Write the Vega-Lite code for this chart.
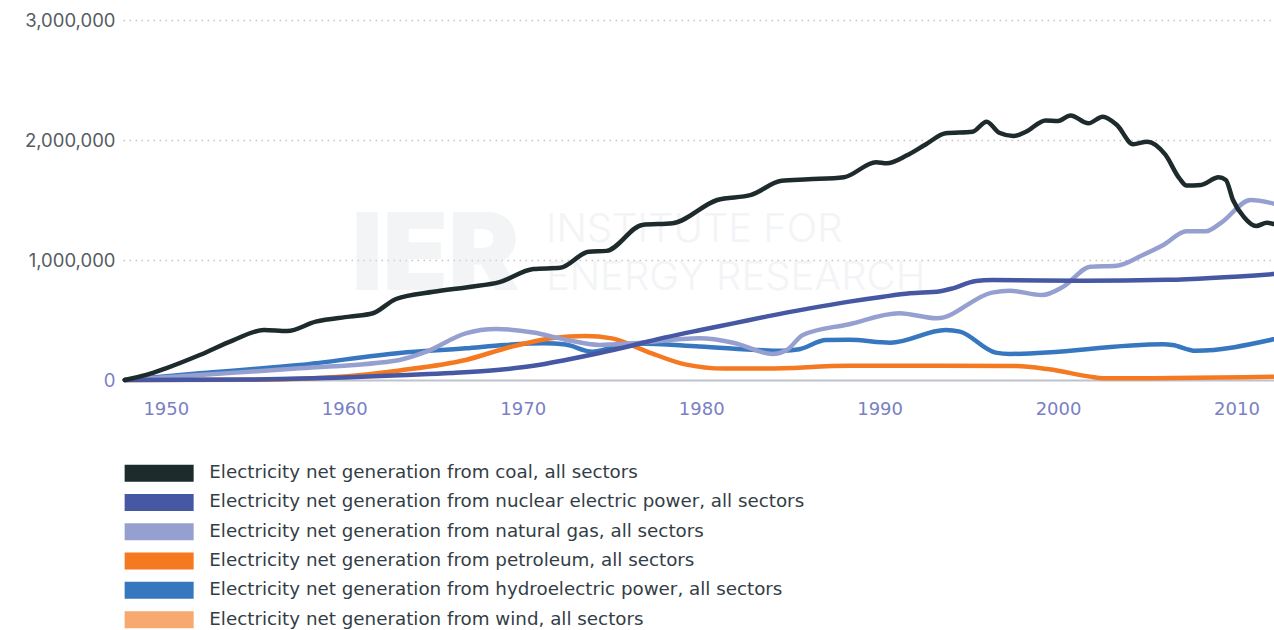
{
  "$schema": "https://vega.github.io/schema/vega-lite/v6.json",
  "autosize": {"type": "none"},
  "padding": {"left": 123, "top": 20, "right": 0, "bottom": 250},
  "width": 1151,
  "height": 360,
  "background": "white",
  "config": {
    "view": {"stroke": null},
    "font": "Inter"
  },
  "layer": [
    {
      "data": {"values": [{}]},
      "mark": {"type": "text", "text": "IER", "font": "Inter", "fontWeight": 900, "fontSize": 107, "align": "left", "baseline": "alphabetic", "fill": "#e2e5ea", "opacity": 0.42},
      "encoding": {"x": {"datum": 1960.4, "type": "quantitative"}, "y": {"datum": 750000, "type": "quantitative"}}
    },
    {
      "data": {"values": [{}]},
      "mark": {"type": "text", "text": "INSTITUTE FOR", "font": "Inter", "fontWeight": 300, "fontSize": 40, "align": "left", "baseline": "alphabetic", "fill": "#e2e5ea", "opacity": 0.42},
      "encoding": {"x": {"datum": 1971.3, "type": "quantitative"}, "y": {"datum": 1150000, "type": "quantitative"}}
    },
    {
      "data": {"values": [{}]},
      "mark": {"type": "text", "text": "ENERGY RESEARCH", "font": "Inter", "fontWeight": 300, "fontSize": 40, "align": "left", "baseline": "alphabetic", "fill": "#e2e5ea", "opacity": 0.42},
      "encoding": {"x": {"datum": 1971.3, "type": "quantitative"}, "y": {"datum": 750000, "type": "quantitative"}}
    },
    {
      "data": {"values": [
        {"s": "hydroelectric power", "year": 1947.7, "v": 0},
        {"s": "hydroelectric power", "year": 1951.9, "v": 56000},
        {"s": "hydroelectric power", "year": 1957.5, "v": 125000},
        {"s": "hydroelectric power", "year": 1963.1, "v": 225000},
        {"s": "hydroelectric power", "year": 1966.8, "v": 264000},
        {"s": "hydroelectric power", "year": 1969.0, "v": 292000},
        {"s": "hydroelectric power", "year": 1971.2, "v": 306000},
        {"s": "hydroelectric power", "year": 1972.4, "v": 295000},
        {"s": "hydroelectric power", "year": 1973.9, "v": 235000},
        {"s": "hydroelectric power", "year": 1975.2, "v": 278000},
        {"s": "hydroelectric power", "year": 1976.5, "v": 305000},
        {"s": "hydroelectric power", "year": 1979.9, "v": 280000},
        {"s": "hydroelectric power", "year": 1984.6, "v": 244000},
        {"s": "hydroelectric power", "year": 1985.5, "v": 256000},
        {"s": "hydroelectric power", "year": 1987.0, "v": 333000},
        {"s": "hydroelectric power", "year": 1988.3, "v": 335000},
        {"s": "hydroelectric power", "year": 1990.6, "v": 311000},
        {"s": "hydroelectric power", "year": 1993.7, "v": 417000},
        {"s": "hydroelectric power", "year": 1994.5, "v": 403000},
        {"s": "hydroelectric power", "year": 1996.5, "v": 228000},
        {"s": "hydroelectric power", "year": 1997.3, "v": 217000},
        {"s": "hydroelectric power", "year": 2005.9, "v": 297000},
        {"s": "hydroelectric power", "year": 2006.4, "v": 292000},
        {"s": "hydroelectric power", "year": 2007.7, "v": 244000},
        {"s": "hydroelectric power", "year": 2012.07, "v": 339000},

        {"s": "petroleum", "year": 1947.7, "v": 0},
        {"s": "petroleum", "year": 1955.0, "v": 3000},
        {"s": "petroleum", "year": 1960.0, "v": 30000},
        {"s": "petroleum", "year": 1963.1, "v": 80000},
        {"s": "petroleum", "year": 1966.8, "v": 167000},
        {"s": "petroleum", "year": 1969.3, "v": 275000},
        {"s": "petroleum", "year": 1971.7, "v": 350000},
        {"s": "petroleum", "year": 1973.5, "v": 367000},
        {"s": "petroleum", "year": 1975.0, "v": 347000},
        {"s": "petroleum", "year": 1977.0, "v": 235000},
        {"s": "petroleum", "year": 1979.1, "v": 130000},
        {"s": "petroleum", "year": 1981.3, "v": 95000},
        {"s": "petroleum", "year": 1983.6, "v": 95000},
        {"s": "petroleum", "year": 1988.3, "v": 119000},
        {"s": "petroleum", "year": 1997.6, "v": 117000},
        {"s": "petroleum", "year": 1999.5, "v": 89000},
        {"s": "petroleum", "year": 2001.8, "v": 28000},
        {"s": "petroleum", "year": 2002.5, "v": 14000},
        {"s": "petroleum", "year": 2012.07, "v": 28000},

        {"s": "natural gas", "year": 1947.7, "v": 0},
        {"s": "natural gas", "year": 1951.9, "v": 42000},
        {"s": "natural gas", "year": 1957.5, "v": 97000},
        {"s": "natural gas", "year": 1963.1, "v": 167000},
        {"s": "natural gas", "year": 1964.6, "v": 236000},
        {"s": "natural gas", "year": 1966.8, "v": 389000},
        {"s": "natural gas", "year": 1968.5, "v": 425000},
        {"s": "natural gas", "year": 1970.6, "v": 396000},
        {"s": "natural gas", "year": 1972.4, "v": 336000},
        {"s": "natural gas", "year": 1974.3, "v": 292000},
        {"s": "natural gas", "year": 1976.2, "v": 306000},
        {"s": "natural gas", "year": 1979.9, "v": 347000},
        {"s": "natural gas", "year": 1981.8, "v": 311000},
        {"s": "natural gas", "year": 1984.0, "v": 217000},
        {"s": "natural gas", "year": 1984.8, "v": 250000},
        {"s": "natural gas", "year": 1985.7, "v": 375000},
        {"s": "natural gas", "year": 1988.3, "v": 465000},
        {"s": "natural gas", "year": 1991.1, "v": 556000},
        {"s": "natural gas", "year": 1993.2, "v": 514000},
        {"s": "natural gas", "year": 1996.3, "v": 728000},
        {"s": "natural gas", "year": 1997.3, "v": 744000},
        {"s": "natural gas", "year": 1999.1, "v": 708000},
        {"s": "natural gas", "year": 2000.3, "v": 778000},
        {"s": "natural gas", "year": 2001.8, "v": 944000},
        {"s": "natural gas", "year": 2003.3, "v": 953000},
        {"s": "natural gas", "year": 2004.75, "v": 1042000},
        {"s": "natural gas", "year": 2005.9, "v": 1125000},
        {"s": "natural gas", "year": 2007.2, "v": 1240000},
        {"s": "natural gas", "year": 2008.3, "v": 1240000},
        {"s": "natural gas", "year": 2009.1, "v": 1306000},
        {"s": "natural gas", "year": 2010.8, "v": 1500000},
        {"s": "natural gas", "year": 2012.07, "v": 1470000},

        {"s": "nuclear electric power", "year": 1947.7, "v": 0},
        {"s": "nuclear electric power", "year": 1955.0, "v": 5000},
        {"s": "nuclear electric power", "year": 1960.0, "v": 20000},
        {"s": "nuclear electric power", "year": 1963.1, "v": 40000},
        {"s": "nuclear electric power", "year": 1966.0, "v": 58000},
        {"s": "nuclear electric power", "year": 1968.7, "v": 85000},
        {"s": "nuclear electric power", "year": 1970.6, "v": 118000},
        {"s": "nuclear electric power", "year": 1972.4, "v": 167000},
        {"s": "nuclear electric power", "year": 1974.3, "v": 225000},
        {"s": "nuclear electric power", "year": 1976.2, "v": 290000},
        {"s": "nuclear electric power", "year": 1978.0, "v": 355000},
        {"s": "nuclear electric power", "year": 1979.9, "v": 415000},
        {"s": "nuclear electric power", "year": 1981.8, "v": 472000},
        {"s": "nuclear electric power", "year": 1983.7, "v": 530000},
        {"s": "nuclear electric power", "year": 1986.0, "v": 595000},
        {"s": "nuclear electric power", "year": 1988.3, "v": 653000},
        {"s": "nuclear electric power", "year": 1990.2, "v": 694000},
        {"s": "nuclear electric power", "year": 1991.7, "v": 722000},
        {"s": "nuclear electric power", "year": 1993.4, "v": 740000},
        {"s": "nuclear electric power", "year": 1994.0, "v": 760000},
        {"s": "nuclear electric power", "year": 1995.4, "v": 825000},
        {"s": "nuclear electric power", "year": 1996.3, "v": 833000},
        {"s": "nuclear electric power", "year": 2001.4, "v": 827000},
        {"s": "nuclear electric power", "year": 2006.1, "v": 835000},
        {"s": "nuclear electric power", "year": 2012.07, "v": 883000},

        {"s": "coal", "year": 1947.7, "v": 0},
        {"s": "coal", "year": 1948.9, "v": 42000},
        {"s": "coal", "year": 1950.0, "v": 97000},
        {"s": "coal", "year": 1951.9, "v": 208000},
        {"s": "coal", "year": 1953.8, "v": 333000},
        {"s": "coal", "year": 1955.5, "v": 417000},
        {"s": "coal", "year": 1956.8, "v": 408000},
        {"s": "coal", "year": 1958.4, "v": 486000},
        {"s": "coal", "year": 1960.3, "v": 528000},
        {"s": "coal", "year": 1961.6, "v": 556000},
        {"s": "coal", "year": 1962.9, "v": 675000},
        {"s": "coal", "year": 1965.0, "v": 735000},
        {"s": "coal", "year": 1967.0, "v": 775000},
        {"s": "coal", "year": 1968.7, "v": 815000},
        {"s": "coal", "year": 1970.6, "v": 925000},
        {"s": "coal", "year": 1972.1, "v": 935000},
        {"s": "coal", "year": 1973.7, "v": 1069000},
        {"s": "coal", "year": 1974.7, "v": 1076000},
        {"s": "coal", "year": 1976.7, "v": 1292000},
        {"s": "coal", "year": 1978.4, "v": 1306000},
        {"s": "coal", "year": 1980.9, "v": 1500000},
        {"s": "coal", "year": 1982.8, "v": 1542000},
        {"s": "coal", "year": 1984.5, "v": 1660000},
        {"s": "coal", "year": 1986.0, "v": 1672000},
        {"s": "coal", "year": 1988.0, "v": 1690000},
        {"s": "coal", "year": 1989.8, "v": 1815000},
        {"s": "coal", "year": 1990.4, "v": 1806000},
        {"s": "coal", "year": 1991.5, "v": 1870000},
        {"s": "coal", "year": 1992.6, "v": 1965000},
        {"s": "coal", "year": 1993.7, "v": 2056000},
        {"s": "coal", "year": 1995.2, "v": 2069000},
        {"s": "coal", "year": 1996.0, "v": 2153000},
        {"s": "coal", "year": 1996.7, "v": 2060000},
        {"s": "coal", "year": 1997.5, "v": 2033000},
        {"s": "coal", "year": 1998.2, "v": 2069000},
        {"s": "coal", "year": 1999.3, "v": 2163000},
        {"s": "coal", "year": 2000.0, "v": 2158000},
        {"s": "coal", "year": 2000.7, "v": 2205000},
        {"s": "coal", "year": 2001.7, "v": 2139000},
        {"s": "coal", "year": 2002.5, "v": 2194000},
        {"s": "coal", "year": 2003.3, "v": 2125000},
        {"s": "coal", "year": 2004.2, "v": 1965000},
        {"s": "coal", "year": 2005.0, "v": 1986000},
        {"s": "coal", "year": 2006.0, "v": 1880000},
        {"s": "coal", "year": 2006.8, "v": 1680000},
        {"s": "coal", "year": 2007.2, "v": 1620000},
        {"s": "coal", "year": 2008.0, "v": 1625000},
        {"s": "coal", "year": 2009.0, "v": 1689000},
        {"s": "coal", "year": 2009.4, "v": 1667000},
        {"s": "coal", "year": 2009.8, "v": 1500000},
        {"s": "coal", "year": 2010.4, "v": 1361000},
        {"s": "coal", "year": 2011.1, "v": 1283000},
        {"s": "coal", "year": 2011.7, "v": 1311000},
        {"s": "coal", "year": 2012.07, "v": 1300000}
      ]},
      "mark": {"type": "line", "interpolate": "monotone", "strokeWidth": 4.5, "strokeCap": "round", "strokeJoin": "round"},
      "encoding": {
        "x": {
          "field": "year", "type": "quantitative",
          "scale": {"domain": [1947.6, 2012.1], "nice": false, "zero": false},
          "axis": {
            "title": null, "values": [1950, 1960, 1970, 1980, 1990, 2000, 2010], "format": "d",
            "grid": false, "ticks": false, "tickSize": 0, "domain": true, "domainColor": "#bfc1cc", "domainWidth": 2,
            "labelFont": "DejaVu Sans", "labelFontSize": 18, "labelColor": "#7a80c4", "labelPadding": 20, "labelFlush": false
          }
        },
        "y": {
          "field": "v", "type": "quantitative",
          "scale": {"domain": [0, 3000000], "nice": false},
          "axis": {
            "title": null, "values": [0, 1000000, 2000000, 3000000], "format": ",d",
            "domain": false, "ticks": false, "tickSize": 0,
            "grid": true, "gridDash": [1.5, 4.5], "gridColor": "#c2c2c2", "gridWidth": 1.5,
            "gridOpacity": {"condition": {"test": "datum.value === 0", "value": 0}, "value": 1},
            "labelFont": "Inter", "labelFontSize": 18.5, "labelPadding": 8,
            "labelColor": {"condition": {"test": "datum.value === 0", "value": "#7a80c4"}, "value": "#555c62"}
          }
        },
        "color": {
          "field": "s", "type": "nominal",
          "scale": {
            "domain": ["coal", "nuclear electric power", "natural gas", "petroleum", "hydroelectric power", "wind"],
            "range": ["#1e2b2c", "#4657a3", "#96a0d0", "#f47920", "#3677bf", "#f8a96f"]
          },
          "legend": {
            "title": null, "orient": "none", "legendX": 27, "legendY": 444, "direction": "vertical", "padding": 0,
            "symbolType": "M-4.06,-1H4.06V1H-4.06Z", "symbolSize": 289, "symbolStrokeWidth": 0,
            "labelFont": "DejaVu Sans", "labelFontSize": 18.3, "labelColor": "#333d45", "labelOffset": 41, "labelLimit": 900,
            "rowPadding": 10.3,
            "labelExpr": "'Electricity net generation from ' + datum.label + ', all sectors'",
            "encode": {"symbols": {"update": {"fill": {"scale": "color", "field": "value"}, "strokeWidth": {"value": 0}, "opacity": {"value": 1}}}}
          }
        }
      }
    }
  ]
}
